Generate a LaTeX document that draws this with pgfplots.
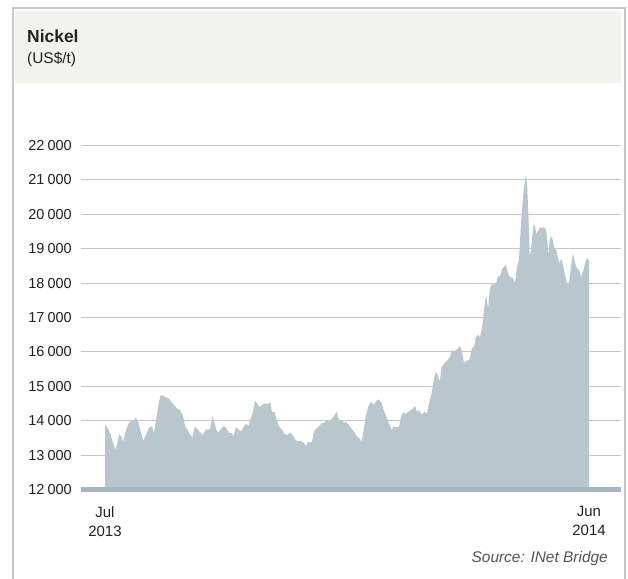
\documentclass[border=0pt]{standalone}
\usepackage{pgfplots}
\pgfplotsset{compat=1.18}
\usepackage{fontspec}
\setmainfont{Liberation Sans}
\definecolor{areacol}{HTML}{B8C6CD}
\definecolor{basecol}{HTML}{A7B5BD}
\definecolor{gridcol}{HTML}{C6C6C6}
\definecolor{headcol}{HTML}{F2F2EE}
\definecolor{framecol}{HTML}{C8C8C8}
\definecolor{txtcol}{HTML}{222222}
\definecolor{srccol}{HTML}{555555}
\begin{document}
\begin{tikzpicture}[x=1bp,y=1bp]
\useasboundingbox (0,0) rectangle (628,579);
\fill[white] (0,0) rectangle (628,579);
\draw[framecol, line width=1.2bp] (13,0) -- (13,571) -- (625,571) -- (625,0);
\fill[headcol] (15,496) rectangle (621,568);
\node[anchor=base west, inner sep=0pt, text=txtcol, font=\fontsize{17.5}{21}\selectfont\bfseries] at (27,536) {Nickel};
\node[anchor=base west, inner sep=0pt, text=txtcol, font=\fontsize{15.5}{19}\selectfont] at (27,515) {(US\$/t)};
\node[anchor=base east, inner sep=0pt, text=srccol, font=\fontsize{15.5}{18}\selectfont\itshape] at (608,16) {Source: INet Bridge};
\begin{axis}[
  at={(81bp,89.5bp)}, anchor=south west,
  scale only axis, width=540bp, height=344bp,
  xmin=81, xmax=621, ymin=12000, ymax=22000,
  clip=false, scaled y ticks=false, scaled x ticks=false,
  axis line style={draw=none},
  major tick length=0pt,
  ymajorgrids, grid style={line width=1bp, gridcol},
  ytick={12000,13000,14000,15000,16000,17000,18000,19000,20000,21000,22000},
  yticklabels={12\hspace{0.22em}000,13\hspace{0.22em}000,14\hspace{0.22em}000,15\hspace{0.22em}000,16\hspace{0.22em}000,17\hspace{0.22em}000,18\hspace{0.22em}000,19\hspace{0.22em}000,20\hspace{0.22em}000,21\hspace{0.22em}000,22\hspace{0.22em}000},
  yticklabel style={font=\fontsize{14.5}{17}\selectfont, text=txtcol, inner sep=0pt, anchor=east, xshift=-9bp},
  xtick={105,589},
  xticklabels={{Jul\\2013},{Jun\\2014}},
  xticklabel style={font=\fontsize{15}{19.5}\selectfont, text=txtcol, align=center, inner sep=0pt, anchor=north, yshift=-16.5bp},
]
\addplot[fill=areacol, draw=none] coordinates {
(105,12000) (105,13875) (107,13825) (110,13640) (112.7,13390) (115.3,13150) (117.3,13340) (119.3,13610) (121.3,13535) (123.3,13390)
(126,13730) (128.7,13925) (131.3,14000) (133.3,13980) (136,14090) (138,13970) (140.7,13680) (143.3,13420) (146,13585) (148.7,13780)
(152,13845) (154,13635) (156,14020) (158.7,14505) (160.7,14745) (163.3,14720) (166,14680) (168.7,14650) (171.3,14550) (174,14455)
(176.7,14360) (180,14310) (182.7,14165) (185.3,13825) (187.7,13730) (190.3,13585) (192.3,13515) (195,13825) (197.7,13750) (200.3,13650)
(203,13585) (205.7,13750) (208.3,13730) (210.3,13780) (212.3,14115) (214.3,13970) (216.3,13730) (218.3,13650) (221,13750) (223.7,13845)
(226.3,13780) (229,13650) (231.7,13635) (233.7,13555) (235.7,13810) (238.3,13750) (241,13680) (243.7,13825) (246.3,13905) (248.3,13845)
(250.3,14020) (253,14260) (255,14580) (257,14505) (259.7,14390) (262.3,14455) (265,14505) (267.7,14485) (270.3,14540) (272,14260)
(274.7,14260) (276.7,14020) (279.3,13825) (282,13730) (284.7,13610) (287.3,13585) (290,13650) (292.7,13585) (295.3,13440) (298,13390)
(300.7,13420) (303.3,13360) (306,13265) (308,13390) (310,13360) (312,13390) (314,13680) (316.7,13780) (319.3,13845) (322,13940)
(324,13925) (326.7,14020) (328.7,13970) (331.3,14040) (334,14135) (336.7,14260) (338.7,14040) (341.3,14020) (344,13940) (346,13970)
(348.7,13875) (351.3,13780) (354,13680) (356.7,13555) (359.3,13490) (361.7,13390) (363.7,13730) (365.7,14115) (368.3,14410) (371,14550)
(373.7,14455) (376.3,14580) (379,14620) (381.7,14505) (384.3,14260) (387,14070) (389,13925) (391.7,13730) (393.7,13825) (396.3,13810)
(399,13810) (401,14115) (403,14235) (405.7,14195) (408.3,14260) (411,14310) (413,14360) (415,14425) (417,14260) (419,14310)
(421.7,14165) (424.3,14260) (427,14215) (429,14505) (431.7,14795) (433.7,15180) (435.7,15425) (437.7,15330) (439.7,15135) (441.7,15570)
(444.7,15670) (447.3,15745) (450,15860) (452,16055) (454,16005) (456,16055) (458,16105) (460,16170) (462,16005) (464,15685)
(466.7,15745) (469.3,15765) (472,16105) (474,16150) (476,16440) (478,16490) (480,16425) (482,16685) (484,17220) (486,17655)
(488,17265) (490,17850) (492,17975) (494,17945) (496,17995) (498,18205) (500,18185) (502,18400) (504,18475) (506,18525)
(507,18380) (509,18205) (511,18170) (513,18140) (515,18010) (517,18475) (519,18670) (520.3,19350) (521.7,20030) (523.7,20705)
(525.7,21140) (527,20900) (528.3,20030) (529.7,18770) (531,18960) (532.3,19350) (533.7,19740) (535,19640) (536.3,19430) (537.7,19495)
(539.7,19620) (541.7,19590) (543.7,19620) (545.7,19565) (547,19350) (548.3,18815) (549.7,19250) (551,19370) (552.3,19300) (554.3,19010)
(556.3,18960) (558.3,18670) (559.7,18575) (561,18720) (563,18525) (565,18235) (567,17995) (569,18010) (571,18475) (573,18865)
(575,18575) (577,18430) (579,18380) (581,18185) (583,18330) (585,18575) (587,18720) (589,18670) (589,12000)
};
\addplot[basecol, line width=4.5bp] coordinates {(81,12000) (621,12000)};
\end{axis}
\end{tikzpicture}
\end{document}
